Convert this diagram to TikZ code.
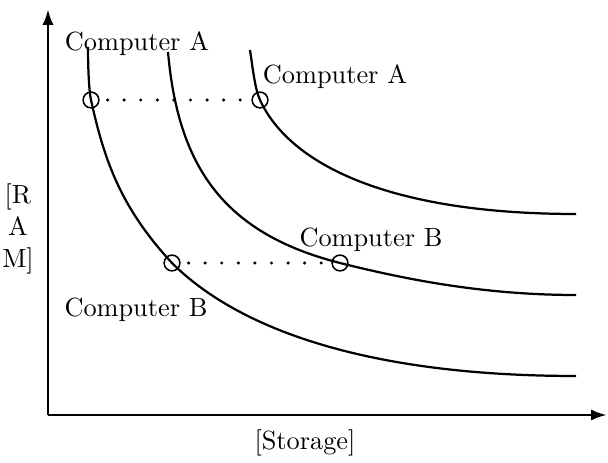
\documentclass[tikz,border=0pt]{standalone}
\usetikzlibrary{arrows.meta}
\begin{document}
\begin{tikzpicture}[x=0.38pt,y=-0.38pt,
  axis/.style={line width=1.1pt,-{Latex[length=6pt,width=4.2pt]}},
  curve/.style={line width=0.85pt},
  pt/.style={circle,draw,line width=0.6pt,minimum size=6pt,inner sep=0pt},
  dotline/.style={line width=1.3pt,line cap=round,dash pattern=on 0pt off 6.3pt,shorten <=3pt},
  lbl/.style={inner sep=0pt}]
\useasboundingbox (0,0) rectangle (608,463);
% axes
\coordinate (o) at (48,415);
\coordinate (ytip) at (48,9);
\coordinate (xtip) at (607,415);
\draw[axis] (o) -- (ytip);
\draw[axis] (o) -- (xtip);
% points
\node[pt] (a1) at (91,100) {};
\node[pt] (a3) at (260,100) {};
\node[pt] (b1) at (172,263) {};
\node[pt] (b2) at (340,263) {};
% curve ends
\coordinate (s1) at (88,47);
\coordinate (e1) at (576,376);
\coordinate (s2) at (168,52);
\coordinate (e2) at (576,295);
\coordinate (s3) at (250,50);
\coordinate (e3) at (576,214);
% curves
\draw[curve] (s1) .. controls (88,62) and (88.6,89) .. (a1.center)
  .. controls (104,159) and (120,207) .. (b1.center)
  .. controls (235,326) and (360,376) .. (e1);
\draw[curve] (s2) .. controls (178,165) and (222,233) .. (b2.center)
  .. controls (400,278) and (480,295) .. (e2);
\draw[curve] (s3) .. controls (253,70) and (255,89) .. (a3.center)
  .. controls (290,165) and (390,214) .. (e3);
% dotted links
\draw[dotline] (a1) -- (a3);
\draw[dotline] (b1) -- (b2);
% labels
\node[lbl] (la1) at (137,44) {Computer A};
\node[lbl] (la3) at (335,77) {Computer A};
\node[lbl] (lb2) at (371,240) {Computer B};
\node[lbl] (lb1) at (136,310) {Computer B};
\node[lbl,align=center] (ram) at (18,229) {[R\\[0pt]A\\[0pt]M]};
\node[lbl] (sto) at (305,443) {[Storage]};
\end{tikzpicture}
\end{document}
